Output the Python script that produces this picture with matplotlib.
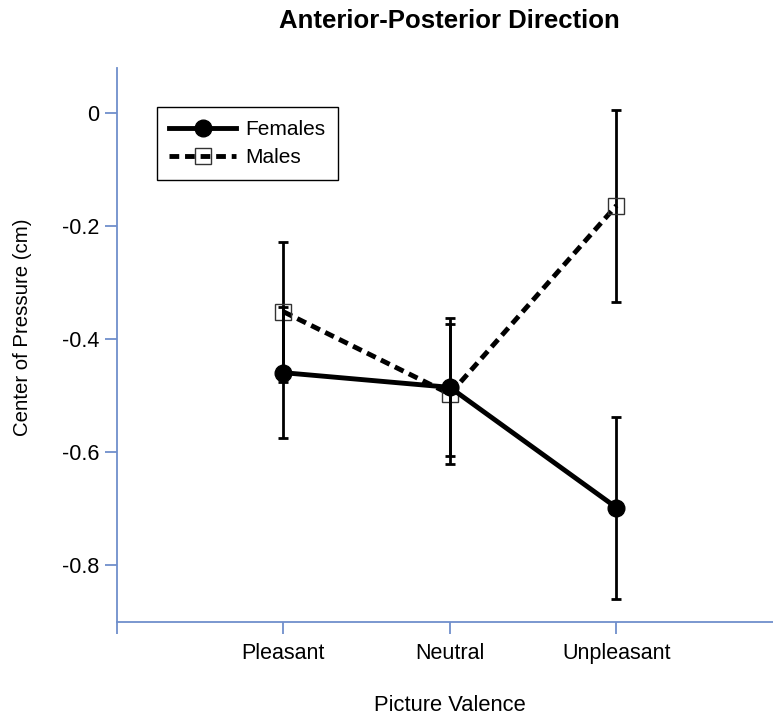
import matplotlib
matplotlib.use("Agg")
import matplotlib.pyplot as plt
import numpy as np

plt.rcParams['font.family'] = ['Liberation Sans', 'DejaVu Sans']

# data
categories = ['Pleasant', 'Neutral', 'Unpleasant']
females = [-0.459, -0.485, -0.698]
females_err = [0.116, 0.122, 0.161]
males = [-0.351, -0.497, -0.163]
males_err = [0.124, 0.124, 0.170]
yticks = [0, -0.2, -0.4, -0.6, -0.8]

spine_color = '#6f8fcc'
x = np.arange(1, len(categories) + 1)

fig = plt.figure(figsize=(7.73, 7.15), dpi=100)
ax = fig.add_axes([0.151, 0.1305, 0.862, 0.774])

# males (dashed, open squares)
ax.errorbar(x, males, yerr=males_err, fmt='none', ecolor='black',
            elinewidth=2, capsize=3.6, capthick=2, zorder=2)
ax.plot(x, males, color='black', lw=3.5, dashes=(2, 1.2),
        marker='s', markersize=11, markerfacecolor='none',
        markeredgecolor='#333333', markeredgewidth=1.0,
        label='Males', zorder=3)

# females (solid, filled circles)
ax.errorbar(x, females, yerr=females_err, fmt='none', ecolor='black',
            elinewidth=2, capsize=3.6, capthick=2, zorder=4)
ax.plot(x, females, color='black', lw=3.5, marker='o', markersize=12,
        markerfacecolor='black', markeredgecolor='black',
        label='Females', zorder=5)

ax.set_xlim(0, 4)
ax.set_ylim(-0.9, 0.08)
ax.set_xticks([0, 1, 2, 3])
ax.set_xticklabels([''] + categories)
ax.set_yticks(yticks)
ax.set_yticklabels(['0' if v == 0 else f'{v:.1f}' for v in yticks])

for s in ['top', 'right']:
    ax.spines[s].set_visible(False)
for s in ['left', 'bottom']:
    ax.spines[s].set_color(spine_color)
    ax.spines[s].set_linewidth(1.3)
ax.tick_params(axis='both', direction='out', length=8.5, width=1.3,
               color=spine_color, labelsize=15.5, labelcolor='black')
ax.tick_params(axis='x', pad=7)
ax.tick_params(axis='y', pad=4)

ax.set_ylabel('Center of Pressure (cm)', fontsize=14.7)
ax.yaxis.set_label_coords(-0.127, 0.532)
ax.set_xlabel('Picture Valence', fontsize=15.8, labelpad=22)
fig.text(0.5815, 0.961, 'Anterior-Posterior Direction', fontsize=18.5,
         fontweight='bold', ha='center', va='baseline')

h, l = ax.get_legend_handles_labels()
leg = ax.legend(h[::-1], l[::-1], loc='upper left',
                bbox_to_anchor=(0.060, 0.9295), borderaxespad=0, fontsize=15,
                handlelength=3.2, handletextpad=0.45, borderpad=0.6,
                labelspacing=0.45, fancybox=False, framealpha=1)
leg.get_frame().set_edgecolor('black')
leg.get_frame().set_linewidth(1.0)

fig.savefig('out.png', dpi=100)
